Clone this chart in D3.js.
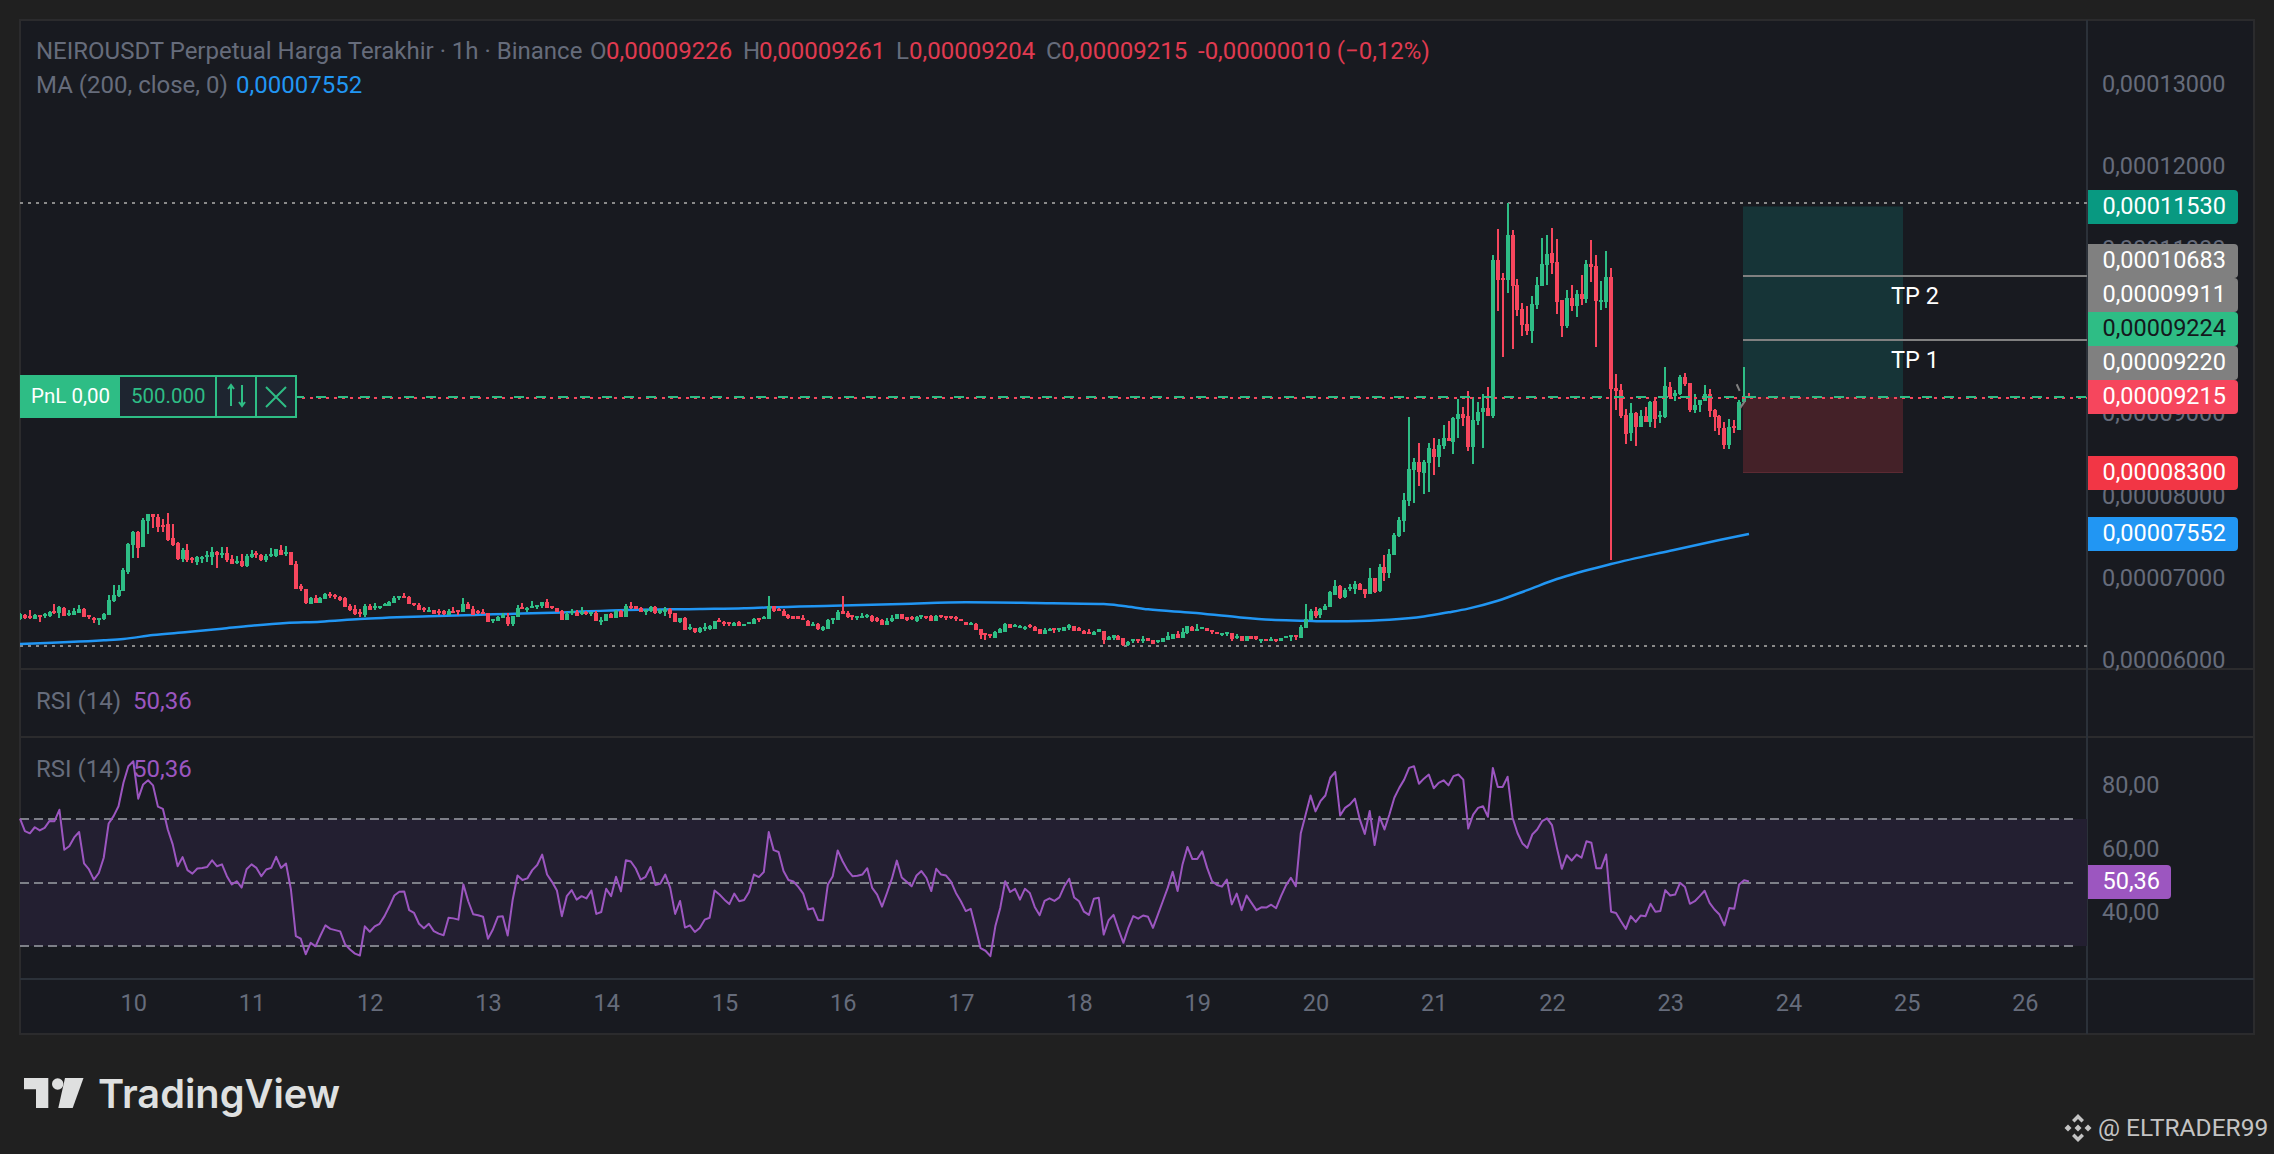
<!DOCTYPE html>
<html>
<head>
<meta charset="utf-8">
<title>NEIROUSDT</title>
<script src="https://cdn.jsdelivr.net/npm/d3@7"></script>
<style>
  html, body { margin: 0; padding: 0; background: #202020; }
  svg { display: block; }
  text { font-family: Roboto, sans-serif; font-size: 23.5px; }
</style>
</head>
<body>
<svg id="chart" width="2274" height="1154"></svg>
<script>
'use strict';

// candles, one per hour, in units of 0.00000001
var candleOpen = [
  6494,6547,6539,6502,6547,6531,6531,6591,6567,6636,
  6551,6547,6575,6620,6543,6514,6494,6494,6547,6713,
  6778,6842,7065,7397,7559,7377,7693,7770,7737,7640,
  7652,7482,7417,7227,7337,7235,7191,7247,7256,7251,
  7312,7288,7296,7223,7179,7203,7138,7251,7296,7276,
  7215,7264,7264,7337,7300,7312,7166,6895,6859,6684,
  6749,6697,6745,6806,6790,6770,6753,6656,6616,6587,
  6543,6656,6636,6636,6660,6660,6697,6757,6774,6765,
  6693,6668,6632,6595,6603,6595,6595,6547,6595,6608,
  6583,6680,6620,6599,6587,6571,6474,6474,6514,6522,
  6437,6522,6648,6620,6632,6640,6656,6705,6656,6632,
  6595,6486,6571,6583,6571,6583,6559,6571,6474,6474,
  6559,6510,6595,6522,6656,6656,6632,6595,6595,6644,
  6571,6583,6620,6571,6462,6510,6377,6389,6344,6385,
  6373,6381,6490,6466,6458,6417,6458,6417,6437,6441,
  6506,6498,6498,6656,6624,6595,6547,6535,6531,6514,
  6474,6413,6437,6365,6377,6486,6486,6595,6567,6543,
  6514,6514,6518,6535,6510,6482,6425,6474,6502,6559,
  6522,6518,6474,6522,6535,6535,6474,6547,6539,6535,
  6522,6498,6462,6425,6437,6377,6328,6316,6267,6328,
  6340,6437,6401,6389,6377,6425,6405,6373,6316,6352,
  6385,6365,6356,6389,6409,6385,6356,6344,6304,6340,
  6352,6243,6267,6296,6267,6182,6231,6255,6231,6267,
  6243,6219,6219,6247,6255,6320,6267,6328,6405,6352,
  6377,6385,6365,6344,6304,6316,6328,6267,6292,6231,
  6292,6292,6239,6255,6231,6255,6231,6263,6279,6304,
  6267,6389,6486,6595,6547,6607,6644,6790,6899,6761,
  6863,6863,6923,6863,6802,6996,6838,7130,7057,7276,
  7507,7693,7932,8308,8406,8272,8393,8564,8467,8600,
  8697,8649,8928,8989,8965,8588,8904,9013,9062,8965,
  10860,10641,10617,11164,10556,10265,10082,9997,10313,10544,
  10799,10945,10836,10370,10058,10398,10301,10447,10386,10811,
  10787,10350,10350,10653,9305,9281,8977,8758,9001,8831,
  8965,8892,9147,8953,8953,9317,9208,9232,9438,9366,
  9037,9098,9147,9232,9037,8965,8819,8612,8843,8794,
  9135,9207
];

var candleClose = [
  6555,6506,6510,6547,6526,6559,6587,6567,6640,6539,
  6571,6599,6624,6526,6522,6502,6506,6563,6729,6790,
  6851,7098,7413,7559,7357,7701,7770,7733,7616,7624,
  7462,7393,7223,7337,7211,7223,7251,7256,7272,7312,
  7272,7296,7215,7170,7199,7142,7268,7284,7276,7219,
  7268,7288,7345,7280,7316,7158,6867,6863,6693,6757,
  6697,6757,6802,6782,6765,6725,6648,6603,6559,6555,
  6656,6608,6656,6656,6680,6709,6753,6774,6757,6684,
  6672,6608,6616,6608,6559,6571,6559,6595,6583,6595,
  6680,6620,6551,6571,6559,6462,6494,6522,6547,6437,
  6535,6632,6620,6632,6656,6664,6705,6632,6628,6583,
  6486,6559,6595,6535,6583,6559,6583,6474,6486,6559,
  6510,6595,6522,6656,6644,6620,6583,6608,6644,6571,
  6608,6620,6559,6462,6510,6365,6401,6340,6385,6405,
  6413,6470,6466,6437,6437,6454,6417,6437,6462,6498,
  6486,6526,6660,6599,6599,6539,6506,6502,6502,6490,
  6417,6437,6373,6405,6482,6510,6583,6563,6522,6518,
  6531,6531,6547,6474,6474,6425,6474,6510,6559,6502,
  6486,6498,6526,6547,6506,6474,6539,6522,6522,6514,
  6498,6474,6425,6450,6365,6304,6304,6292,6340,6377,
  6437,6389,6425,6413,6405,6401,6352,6316,6365,6381,
  6365,6385,6397,6425,6352,6352,6316,6316,6344,6373,
  6243,6283,6300,6243,6182,6219,6255,6231,6259,6231,
  6194,6243,6263,6292,6316,6267,6340,6409,6352,6377,
  6397,6352,6340,6316,6324,6340,6255,6292,6231,6288,
  6255,6255,6255,6231,6255,6231,6267,6292,6304,6279,
  6401,6498,6595,6531,6620,6656,6826,6899,6757,6850,
  6887,6923,6850,6802,6996,6826,7130,7057,7288,7519,
  7701,7944,8321,8406,8284,8406,8576,8467,8612,8697,
  8661,8940,8989,8940,8588,8916,9013,9062,8965,10860,
  10617,10617,11164,10544,10252,10070,9997,10325,10556,10811,
  10933,10824,10350,10058,10398,10301,10447,10386,10811,10775,
  10362,10374,10653,9293,9268,8965,8746,9001,8831,8965,
  8892,9135,8928,8977,9329,9199,9244,9438,9353,9037,
  9098,9159,9232,9025,8952,8819,8612,8831,8831,9135,
  9207,9196
];

var candleHigh = [
  6567,6559,6607,6559,6547,6575,6599,6680,6656,6644,
  6607,6636,6668,6632,6547,6518,6510,6571,6790,6911,
  6911,7118,7426,7567,7567,7721,7774,7774,7774,7713,
  7782,7652,7434,7365,7409,7247,7264,7264,7324,7373,
  7320,7373,7373,7276,7264,7284,7284,7337,7324,7288,
  7284,7365,7353,7397,7385,7316,7203,6923,6867,6765,
  6790,6765,6814,6826,6802,6773,6761,6680,6668,6620,
  6680,6680,6689,6656,6693,6721,6778,6774,6814,6778,
  6693,6693,6644,6644,6603,6620,6608,6620,6644,6608,
  6753,6705,6656,6608,6620,6571,6494,6535,6571,6571,
  6535,6668,6693,6648,6717,6664,6705,6741,6656,6632,
  6608,6583,6620,6608,6644,6595,6583,6595,6522,6559,
  6571,6608,6608,6680,6705,6656,6644,6620,6656,6656,
  6620,6644,6632,6571,6510,6522,6437,6389,6397,6446,
  6425,6474,6510,6474,6458,6462,6474,6437,6462,6510,
  6506,6539,6778,6656,6636,6620,6559,6539,6535,6547,
  6486,6462,6446,6417,6498,6510,6608,6778,6591,6543,
  6531,6571,6559,6547,6522,6494,6510,6547,6559,6559,
  6522,6535,6535,6547,6535,6547,6547,6547,6539,6535,
  6535,6498,6462,6462,6450,6377,6328,6316,6352,6389,
  6450,6437,6437,6425,6413,6437,6413,6381,6389,6389,
  6385,6385,6397,6437,6409,6397,6365,6377,6356,6377,
  6352,6292,6304,6304,6267,6231,6255,6255,6292,6267,
  6243,6243,6267,6340,6316,6352,6389,6413,6413,6437,
  6397,6385,6365,6344,6324,6340,6328,6316,6292,6292,
  6292,6292,6255,6255,6279,6255,6267,6292,6304,6304,
  6425,6680,6620,6640,6632,6680,6838,6972,6911,6875,
  6923,6960,6935,6863,7118,6996,7166,7276,7349,7543,
  7737,8025,8952,8450,8636,8430,8636,8697,8685,8855,
  8904,8952,9171,9074,9268,9196,9135,9232,9317,10921,
  11237,10702,11553,11225,10629,10338,10301,10423,10653,11127,
  11164,11249,11115,10374,10496,10556,10496,10678,10860,11103,
  10921,10605,10969,10763,9475,9353,9050,9123,9013,9037,
  9074,9147,9171,9025,9560,9378,9281,9463,9487,9366,
  9232,9159,9341,9293,9050,8977,8892,8928,8916,9159,
  9560,9242
];

var candleLow = [
  6486,6498,6498,6498,6462,6514,6526,6555,6510,6535,
  6539,6547,6571,6522,6498,6450,6425,6486,6547,6705,
  6761,6838,7049,7243,7239,7377,7531,7608,7555,7555,
  7450,7385,7215,7195,7195,7175,7158,7175,7187,7158,
  7122,7239,7195,7166,7162,7130,7134,7239,7235,7207,
  7191,7256,7251,7276,7268,7154,6863,6842,6684,6680,
  6693,6693,6741,6757,6741,6717,6644,6599,6551,6526,
  6522,6603,6608,6620,6656,6656,6693,6729,6753,6680,
  6656,6603,6583,6595,6559,6547,6547,6547,6583,6543,
  6583,6616,6543,6559,6559,6462,6450,6474,6510,6413,
  6413,6522,6616,6583,6628,6616,6632,6628,6616,6583,
  6486,6486,6547,6535,6547,6547,6535,6474,6425,6474,
  6510,6510,6522,6522,6616,6616,6583,6547,6583,6559,
  6559,6535,6510,6462,6450,6365,6365,6328,6328,6356,
  6365,6377,6466,6413,6413,6413,6413,6417,6437,6437,
  6462,6498,6498,6587,6595,6535,6498,6498,6498,6486,
  6413,6413,6365,6352,6377,6437,6482,6559,6514,6486,
  6490,6506,6510,6466,6462,6425,6425,6462,6502,6502,
  6474,6486,6466,6498,6498,6474,6474,6510,6486,6498,
  6474,6474,6425,6425,6365,6255,6243,6267,6267,6328,
  6340,6389,6401,6389,6365,6389,6352,6316,6316,6348,
  6328,6340,6348,6365,6352,6352,6316,6316,6304,6340,
  6194,6243,6243,6243,6170,6170,6207,6207,6207,6231,
  6194,6207,6219,6243,6255,6267,6267,6316,6352,6352,
  6377,6352,6316,6316,6292,6292,6231,6255,6231,6231,
  6255,6243,6207,6231,6231,6219,6231,6263,6231,6243,
  6267,6389,6486,6510,6510,6607,6640,6785,6741,6753,
  6838,6802,6850,6753,6802,6814,6826,6960,6996,7276,
  7494,7559,7871,7912,8118,8021,8045,8248,8345,8564,
  8661,8503,8697,8843,8539,8381,8855,8576,8965,8940,
  10240,9681,10459,9779,10180,9937,9949,9852,10265,10544,
  10556,10690,10204,9924,10034,10240,10167,10313,10338,10593,
  9803,10252,10277,7215,9037,8940,8624,8661,8600,8831,
  8892,8831,8819,8880,8940,9171,9147,9220,9329,9013,
  9001,9013,9147,8952,8782,8734,8564,8564,8758,8794,
  9119,9185
];

// moving average, read at the candles listed in maIndex
var maIndex = [0,17,21,27,34,41,47,54,61,69,83,96,110,123,138,147,152,165,179,192,206,220,224,229,238,247,254,261,265,274,278,285,290,294,300,306,312,323,335,345,351];
var maValue = [6194,6239,6255,6304,6340,6381,6417,6450,6466,6498,6531,6555,6579,6608,6620,6628,6640,6660,6680,6701,6693,6680,6656,6616,6575,6522,6490,6478,6470,6478,6490,6530,6580,6625,6720,6850,6984,7166,7328,7458,7531];

var rsiValue = [
  70.1,66.2,65.5,67.4,66.4,67.2,69.4,69.3,72.9,60.3,
  61.4,64.2,65.9,56.0,54.1,50.9,53.0,57.8,68.6,70.9,
  74.0,81.4,86.6,88.2,76.4,80.9,82.2,80.6,73.9,73.2,
  66.7,62.0,55.1,58.0,53.9,52.8,54.4,54.6,54.9,57.0,
  55.1,55.7,52.0,49.4,50.4,48.4,54.2,55.7,54.6,52.0,
  54.1,54.6,58.1,54.6,56.0,47.8,33.1,32.3,27.4,31.0,
  29.9,33.3,36.5,35.4,35.0,34.6,30.5,28.9,27.6,27.0,
  36.2,34.5,36.2,37.0,39.4,42.5,45.9,47.1,47.2,41.3,
  40.4,37.0,35.6,37.0,34.7,33.9,33.4,38.9,38.7,38.3,
  49.4,44.1,40.0,39.7,39.2,32.3,35.2,39.2,39.4,33.3,
  44.4,52.2,50.8,51.3,53.9,55.5,58.8,52.5,50.2,47.5,
  39.4,45.7,47.6,44.6,45.7,45.0,47.5,40.1,40.7,48.0,
  45.7,51.8,47.2,57.0,56.6,54.4,50.9,51.8,54.9,49.2,
  49.7,52.5,48.3,40.1,44.2,35.8,36.5,34.4,35.7,38.3,
  38.9,47.5,46.2,44.6,43.2,46.5,44.1,44.5,47.0,52.5,
  51.7,53.3,65.9,60.2,59.6,53.6,50.8,50.3,48.6,46.5,
  41.5,41.9,38.2,38.1,49.4,52.0,60.1,56.7,53.9,52.0,
  52.1,52.5,54.5,48.3,46.2,42.4,46.7,51.2,56.9,51.6,
  50.2,48.8,52.2,53.6,51.5,47.3,54.3,52.5,52.2,50.3,
  46.7,44.1,41.0,41.7,35.7,29.3,28.5,26.8,36.2,42.0,
  50.4,47.0,48.0,44.6,48.0,46.7,42.3,39.7,44.2,45.0,
  44.2,45.3,48.8,51.2,45.3,44.1,40.8,39.8,44.9,45.2,
  33.6,38.1,39.8,35.2,31.0,35.7,39.4,38.6,39.6,39.2,
  35.7,39.9,44.1,48.3,53.4,47.3,55.7,61.2,57.4,57.4,
  59.8,54.6,50.4,49.2,48.7,50.9,43.1,46.5,41.3,45.9,
  43.6,41.3,42.2,42.1,43.0,41.9,45.7,49.1,51.5,48.8,
  65.4,71.4,77.4,72.4,75.6,77.4,83.0,84.8,71.1,73.5,
  74.6,76.4,69.8,65.3,72.5,61.8,70.7,66.7,71.4,76.7,
  79.8,82.4,86.1,86.6,81.1,82.7,84.0,79.7,81.4,82.2,
  80.6,83.5,84.0,82.4,67.0,71.4,73.5,74.0,70.7,86.1,
  80.1,80.1,83.3,70.4,65.6,62.3,60.9,65.1,66.7,69.3,
  70.2,68.1,60.9,54.3,58.6,56.9,58.8,57.8,63.0,62.5,
  54.5,54.5,58.8,40.8,40.4,37.8,35.4,39.4,37.6,39.6,
  39.4,43.3,40.8,41.0,47.6,45.9,46.2,49.9,48.6,43.3,
  44.1,45.7,47.4,43.6,41.5,39.9,36.5,42.0,41.7,49.4,
  50.7,50.36
];

var dayTicks = [10,11,12,13,14,15,16,17,18,19,20,21,22,23,24,25,26];
var priceTicks = [6000,7000,8000,9000,10000,11000,12000,13000];
var rsiTicks = [40,60,80];
var rsiLevels = [30,50,70];

var entryPrice = 9215;
var stopPrice = 8300;
var targetPrice = 11530;
var tpLevels = [{name: 'TP 2', value: 10683}, {name: 'TP 1', value: 9911}];
var rangeHigh = 11553;
var rangeLow = 6170;

// bias between the grid the candles were read on and the price axis
var READ_BIAS = 19;

var GREEN = '#2ebd85',
    RED = '#f6465d',
    BLUE = '#2196f3',
    PURPLE = '#9c56c0',
    GREY = '#808080',
    AXIS_TEXT = '#666c7b',
    LEGEND_RED = '#e03a50';

var svg = d3.select('#chart');

var x = d3.scaleLinear().domain([0, 351]).range([20, 1749]),
    y = d3.scaleLinear().domain([6000, 13000]).range([661.6, 85.5]),
    yRsi = d3.scaleLinear().domain([30, 70]).range([946, 819]);

var axisX = 2087,
    panelLeft = 20,
    panelRight = 2254,
    panelTop = 20,
    panelBottom = 1034;

var formatPrice = function (v) {
  return (v / 1e8).toFixed(8).replace('.', ',');
};

var formatRsi = function (v) {
  return v.toFixed(2).replace('.', ',');
};

var dayToIndex = function (d) {
  return (d - 10) * 24 + 23;
};

svg.append('defs').append('clipPath').attr('id', 'plot')
  .append('rect')
  .attr('x', panelLeft).attr('y', panelTop)
  .attr('width', axisX - panelLeft).attr('height', 649);

// panel frame
svg.append('rect')
  .attr('x', panelLeft).attr('y', panelTop)
  .attr('width', panelRight - panelLeft).attr('height', panelBottom - panelTop)
  .attr('fill', '#181a20').attr('stroke', '#2b2b2d').attr('stroke-width', 2);

var hline = function (yPos, color, width, x0, x1) {
  return svg.append('line')
    .attr('x1', x0 === undefined ? panelLeft : x0)
    .attr('x2', x1 === undefined ? panelRight : x1)
    .attr('y1', Math.round(yPos)).attr('y2', Math.round(yPos))
    .attr('stroke', color).attr('stroke-width', width)
    .attr('shape-rendering', 'crispEdges');
};

hline(669, '#2b2b2d', 2);
hline(737, '#2b2b2d', 2);
hline(979, '#2b3139', 2);
svg.append('line')
  .attr('x1', axisX).attr('x2', axisX)
  .attr('y1', panelTop).attr('y2', panelBottom)
  .attr('stroke', '#2b3139').attr('stroke-width', 2);

// position box
svg.append('rect')
  .attr('x', 1743).attr('y', y(targetPrice))
  .attr('width', 160).attr('height', y(entryPrice) - y(targetPrice))
  .attr('fill', '#163437');
svg.append('rect')
  .attr('x', 1743).attr('y', y(entryPrice))
  .attr('width', 160).attr('height', y(stopPrice) - y(entryPrice))
  .attr('fill', '#442128');
hline(y(stopPrice), '#5b2a33', 1, 1743, 1903);

// range high / low
[rangeHigh, rangeLow].forEach(function (v) {
  hline(y(v + READ_BIAS), '#8a8a8a', 2, panelLeft, axisX).attr('stroke-dasharray', '3 5');
});

// moving average sits under the candles
var maLine = d3.line()
  .x(function (d, i) { return x(maIndex[i]); })
  .y(function (d) { return y(d + READ_BIAS); })
  .curve(d3.curveMonotoneX);

svg.append('path')
  .attr('d', maLine(maValue))
  .attr('clip-path', 'url(#plot)')
  .attr('fill', 'none')
  .attr('stroke', BLUE)
  .attr('stroke-width', 2.5);

// candles
var candles = candleOpen.map(function (o, i) {
  return {
    i: i,
    o: o + READ_BIAS,
    c: candleClose[i] + READ_BIAS,
    h: candleHigh[i] + READ_BIAS,
    l: candleLow[i] + READ_BIAS
  };
});

var candleG = svg.append('g')
  .attr('clip-path', 'url(#plot)')
  .attr('shape-rendering', 'crispEdges');

var candle = candleG.selectAll('g').data(candles).enter().append('g')
  .attr('fill', function (d) { return d.c >= d.o ? GREEN : RED; });

candle.append('rect')
  .attr('x', function (d) { return Math.round(x(d.i)) - 1; })
  .attr('width', 2)
  .attr('y', function (d) { return y(d.h); })
  .attr('height', function (d) { return y(d.l) - y(d.h); });

candle.append('rect')
  .attr('x', function (d) { return Math.round(x(d.i)) - 2; })
  .attr('width', 4)
  .attr('y', function (d) { return y(Math.max(d.o, d.c)); })
  .attr('height', function (d) { return Math.max(2, Math.abs(y(d.o) - y(d.c))); });

// small grey arrow of the position tool
svg.append('path')
  .attr('d', d3.line()([[x(348.5), y(9370)], [x(349.1), y(9290)]]) +
    d3.line()([[x(349.2), y(9080)], [x(350.2), y(9170)]]))
  .attr('fill', 'none').attr('stroke', GREY).attr('stroke-width', 2);

// entry price lines
hline(y(entryPrice) + 1, RED, 2, 206, axisX).attr('stroke-dasharray', '3 5');
hline(y(entryPrice) - 0.5, GREEN, 2, 206, axisX).attr('stroke-dasharray', '10 12');

// targets
tpLevels.forEach(function (tp) {
  hline(y(tp.value), GREY, 2, 1743, axisX);
  svg.append('text')
    .attr('x', 1891).attr('y', y(tp.value) + 28)
    .attr('fill', '#ffffff')
    .text(tp.name);
});

// price axis
var priceAxis = d3.axisRight(y)
  .tickValues(priceTicks)
  .tickFormat(formatPrice)
  .tickSize(0)
  .tickPadding(15);

var styleAxis = function (g) {
  g.select('.domain').remove();
  g.selectAll('text')
    .attr('fill', AXIS_TEXT)
    .style('font-family', 'Roboto, sans-serif')
    .style('font-size', '23.5px');
};

svg.append('g')
  .attr('transform', 'translate(' + axisX + ',-1.5)')
  .call(priceAxis)
  .call(styleAxis);

// RSI pane
svg.append('rect')
  .attr('x', panelLeft).attr('y', yRsi(70))
  .attr('width', axisX - panelLeft).attr('height', yRsi(30) - yRsi(70))
  .attr('fill', '#231f31');

rsiLevels.forEach(function (v) {
  hline(yRsi(v), '#7d7f88', 2, panelLeft, 2077).attr('stroke-dasharray', '9 5');
});

var rsiLine = d3.line()
  .x(function (d, i) { return x(i); })
  .y(function (d) { return yRsi(d); });

svg.append('path')
  .attr('d', rsiLine(rsiValue))
  .attr('fill', 'none')
  .attr('stroke', PURPLE)
  .attr('stroke-width', 2)
  .attr('stroke-linejoin', 'round');

svg.append('g')
  .attr('transform', 'translate(' + axisX + ',-2)')
  .call(d3.axisRight(yRsi).tickValues(rsiTicks).tickFormat(formatRsi).tickSize(0).tickPadding(15))
  .call(styleAxis);

// time axis
svg.append('g')
  .attr('transform', 'translate(0,994)')
  .call(d3.axisBottom(x)
    .tickValues(dayTicks.map(dayToIndex))
    .tickFormat(function (v) { return String((v - 23) / 24 + 10); })
    .tickSize(0)
    .tickPadding(0))
  .call(styleAxis)
  .selectAll('text').attr('dy', '0.71em');

// price labels on the axis
var priceLabels = [
  {text: formatPrice(11530), top: 190, fill: '#089981', color: '#ffffff'},
  {text: formatPrice(10683), top: 244, fill: GREY, color: '#ffffff'},
  {text: formatPrice(9911), top: 278, fill: GREY, color: '#ffffff'},
  {text: formatPrice(9224), top: 312, fill: GREEN, color: '#14181c'},
  {text: formatPrice(9220), top: 346, fill: GREY, color: '#ffffff'},
  {text: formatPrice(9215), top: 380, fill: RED, color: '#ffffff'},
  {text: formatPrice(8300), top: 456, fill: '#f23645', color: '#ffffff'},
  {text: formatPrice(7552), top: 517, fill: BLUE, color: '#ffffff'}
];

var axisLabel = function (d, width) {
  var g = svg.append('g');
  g.append('path')
    .attr('d', 'M' + (axisX + 1) + ' ' + d.top + 'h' + (width - 4) +
      'a4 4 0 0 1 4 4v26a4 4 0 0 1 -4 4h-' + (width - 4) + 'z')
    .attr('fill', d.fill);
  g.append('text')
    .attr('x', axisX + 15.5).attr('y', d.top + 24)
    .attr('fill', d.color)
    .text(d.text);
};

priceLabels.forEach(function (d) { axisLabel(d, 150); });
axisLabel({text: formatRsi(50.36), top: 865, fill: PURPLE, color: '#ffffff'}, 83);

// legend
var legendParts = [
  {x: 36, y: 59, text: 'NEIROUSDT Perpetual Harga Terakhir · 1h · Binance', fill: AXIS_TEXT},
  {x: 590, y: 59, text: 'O', fill: AXIS_TEXT},
  {x: 606, y: 59, text: formatPrice(9226), fill: LEGEND_RED},
  {x: 743, y: 59, text: 'H', fill: AXIS_TEXT},
  {x: 759, y: 59, text: formatPrice(9261), fill: LEGEND_RED},
  {x: 896, y: 59, text: 'L', fill: AXIS_TEXT},
  {x: 909, y: 59, text: formatPrice(9204), fill: LEGEND_RED},
  {x: 1046, y: 59, text: 'C', fill: AXIS_TEXT},
  {x: 1061, y: 59, text: formatPrice(9215), fill: LEGEND_RED},
  {x: 1198, y: 59, text: '-' + formatPrice(10) + ' (−0,12%)', fill: LEGEND_RED},
  {x: 36, y: 93, text: 'MA (200, close, 0)', fill: AXIS_TEXT},
  {x: 236, y: 93, text: formatPrice(7552), fill: BLUE},
  {x: 36, y: 709, text: 'RSI (14)', fill: AXIS_TEXT},
  {x: 133, y: 709, text: formatRsi(50.36), fill: PURPLE},
  {x: 36, y: 777, text: 'RSI (14)', fill: AXIS_TEXT},
  {x: 133, y: 777, text: formatRsi(50.36), fill: PURPLE}
];

svg.append('g').selectAll('text').data(legendParts).enter().append('text')
  .attr('x', function (d) { return d.x; })
  .attr('y', function (d) { return d.y; })
  .attr('fill', function (d) { return d.fill; })
  .style('font-size', '24px')
  .text(function (d) { return d.text; });

// PnL widget
var pnl = svg.append('g').attr('transform', 'translate(21,376)');
pnl.append('rect').attr('x', 0).attr('y', 0).attr('width', 275).attr('height', 41)
  .attr('fill', '#1e2530').attr('stroke', GREEN).attr('stroke-width', 2);
pnl.append('rect').attr('x', 0).attr('y', 0).attr('width', 99).attr('height', 41).attr('fill', GREEN);
pnl.selectAll('line.sep').data([195, 235]).enter().append('line')
  .attr('x1', function (d) { return d; }).attr('x2', function (d) { return d; })
  .attr('y1', 0).attr('y2', 41)
  .attr('stroke', GREEN).attr('stroke-width', 2);
pnl.append('text').attr('x', 10).attr('y', 27).attr('fill', '#ffffff')
  .style('font-size', '20.5px').text('PnL 0,00');
pnl.append('text').attr('x', 110).attr('y', 27).attr('fill', GREEN)
  .style('font-size', '20.5px').text('500.000');
pnl.append('path')
  .attr('d', 'M210 30V9M207 13l3 -4l3 4M221 9V30M218 26l3 4l3 -4M245 11L265 31M265 11L245 31')
  .attr('fill', 'none').attr('stroke', GREEN).attr('stroke-width', 2);

// footer
var logo = svg.append('g').attr('fill', '#dfe0e0');
logo.append('path').attr('d', 'M24 1078H48.3V1108H36V1089.3H24Z');
logo.append('circle').attr('cx', 57.7).attr('cy', 1084).attr('r', 5.7);
logo.append('path').attr('d', 'M65 1078H83.5L72.7 1108H58.3Z');
logo.append('text')
  .attr('x', 98).attr('y', 1108)
  .attr('textLength', 242)
  .attr('lengthAdjust', 'spacingAndGlyphs')
  .style('font-family', 'Inter, sans-serif')
  .style('font-size', '40px')
  .style('font-weight', 600)
  .text('TradingView');

var mark = svg.append('g').attr('fill', '#c4c4c4').attr('transform', 'translate(2078,1128)');
mark.append('path').attr('d', 'M0 -14L6 -8L3.5 -5.5L0 -9L-3.5 -5.5L-6 -8Z');
mark.append('path').attr('d', 'M0 14L6 8L3.5 5.5L0 9L-3.5 5.5L-6 8Z');
mark.append('path').attr('d', 'M0 -3.5L3.5 0L0 3.5L-3.5 0Z');
mark.append('path').attr('d', 'M-10 -3.5L-6.5 0L-10 3.5L-13.5 0Z');
mark.append('path').attr('d', 'M10 -3.5L13.5 0L10 3.5L6.5 0Z');
svg.append('text')
  .attr('x', 2098).attr('y', 1136)
  .attr('fill', '#c4c4c4')
  .style('font-size', '24.5px')
  .text('@ ELTRADER99');
</script>
</body>
</html>
